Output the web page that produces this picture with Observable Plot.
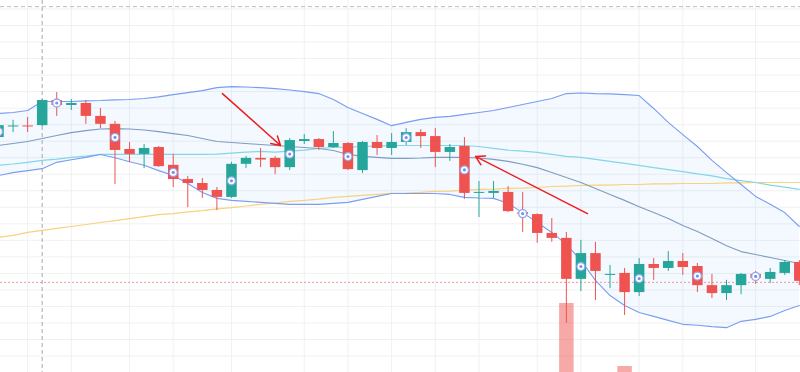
<!DOCTYPE html>
<html><head><meta charset="utf-8">
<script src="https://cdn.jsdelivr.net/npm/d3@7"></script>
<script src="https://cdn.jsdelivr.net/npm/@observablehq/plot@0.6"></script>
<style>
html,body{margin:0;padding:0;background:#fff;}
#chart{position:relative;width:800px;height:372px;overflow:hidden;background:#fff;}
#chart svg{position:absolute;left:0;top:0;}
</style></head><body><div id="chart"></div>
<script>
// OHLC per session (index 0..55)
const open  = [26.61,26.93,26.96,26.97,27.73,27.58,27.64,27.25,27.01,26.25,26.10,26.31,25.77,25.34,25.22,25.01,24.80,25.80,25.98,25.98,25.70,26.49,26.55,26.31,26.43,25.61,26.46,26.28,26.46,26.76,26.64,26.16,26.34,24.92,24.92,24.95,24.34,24.28,23.71,23.56,22.32,23.10,22.44,22.50,21.92,22.77,22.65,22.86,22.71,22.13,21.89,22.13,22.47,22.32,22.50,22.83];
const high  = [27.01,27.13,27.22,27.76,27.97,27.76,27.73,27.49,27.10,26.46,26.40,26.34,26.10,25.43,25.37,25.10,25.86,26.04,26.28,26.04,26.58,26.70,26.58,26.79,26.46,26.49,26.67,26.73,26.88,26.85,26.88,26.40,26.61,25.28,25.28,25.13,24.95,24.30,24.16,23.74,23.50,23.44,22.74,22.65,22.95,22.95,23.16,23.10,22.80,22.47,22.29,22.50,22.56,22.65,22.89,22.89];
const low   = [26.58,26.76,26.76,26.94,27.25,27.43,27.01,26.88,25.19,25.86,25.67,25.71,25.10,24.49,24.77,24.40,24.77,25.67,25.70,25.49,25.61,26.40,26.22,26.28,25.61,25.52,26.07,26.07,26.37,26.28,25.70,25.89,24.74,24.19,24.77,24.34,23.74,23.41,23.44,20.99,21.95,21.68,22.04,21.23,21.80,22.29,22.56,22.44,21.92,21.74,21.68,21.86,22.17,22.20,22.44,22.13];
const close = [26.97,26.96,26.93,27.73,27.58,27.64,27.25,27.01,26.22,26.10,26.28,25.73,25.34,25.22,25.01,24.80,25.80,25.98,25.93,25.70,26.52,26.55,26.31,26.43,25.64,26.46,26.28,26.46,26.76,26.64,26.16,26.31,24.92,24.95,24.98,24.37,24.28,23.71,23.56,22.32,23.10,22.56,22.47,21.92,22.77,22.65,22.86,22.68,22.13,21.89,22.13,22.47,22.35,22.53,22.83,22.26];

// Bollinger bands
const bbUpper  = [27.34,27.37,27.43,27.70,27.70,27.70,27.72,27.73,27.75,27.76,27.79,27.84,27.91,27.97,28.03,28.12,28.15,28.14,28.12,28.09,28.05,28.00,27.94,27.76,27.52,27.34,27.16,26.97,27.07,27.16,27.22,27.25,27.31,27.37,27.43,27.52,27.61,27.70,27.79,27.94,27.96,27.94,27.93,27.91,27.88,27.49,27.07,26.70,26.34,25.92,25.55,25.19,24.83,24.59,24.34,23.92];
const bbMiddle = [26.37,26.43,26.49,26.58,26.67,26.76,26.82,26.87,26.88,26.87,26.84,26.79,26.73,26.67,26.58,26.49,26.46,26.43,26.40,26.37,26.34,26.31,26.28,26.22,26.10,26.04,26.01,25.98,25.98,25.99,26.01,26.01,26.01,25.99,25.95,25.89,25.80,25.70,25.55,25.40,25.25,25.07,24.89,24.71,24.52,24.34,24.16,23.95,23.77,23.56,23.34,23.16,23.07,22.98,22.89,22.80];
const bbLower  = [25.46,25.55,25.61,25.67,25.86,25.94,26.01,26.10,26.00,25.88,25.77,25.61,25.46,25.22,24.95,24.77,24.71,24.68,24.65,24.62,24.59,24.59,24.59,24.62,24.65,24.74,24.83,24.92,24.92,24.92,24.92,24.89,24.80,24.78,24.77,24.62,24.34,24.04,23.74,23.38,22.89,22.29,21.83,21.53,21.32,21.20,21.08,20.96,20.93,20.89,20.86,21.05,21.11,21.20,21.38,21.53];

// moving averages
const maFast = [25.77,25.81,25.86,25.92,25.96,26.01,26.05,26.10,26.10,26.10,26.10,26.10,26.10,26.10,26.10,26.11,26.14,26.17,26.19,26.17,26.20,26.23,26.28,26.31,26.32,26.34,26.35,26.37,26.37,26.37,26.37,26.37,26.37,26.34,26.28,26.23,26.20,26.16,26.10,26.04,26.01,25.95,25.89,25.83,25.77,25.70,25.64,25.58,25.51,25.45,25.37,25.31,25.25,25.17,25.11,25.04];
const maSlow = [23.59,23.65,23.74,23.80,23.86,23.92,23.98,24.04,24.10,24.16,24.22,24.28,24.31,24.36,24.40,24.45,24.49,24.54,24.59,24.63,24.68,24.71,24.75,24.80,24.83,24.86,24.89,24.92,24.93,24.95,24.98,24.99,25.02,25.04,25.05,25.07,25.08,25.10,25.13,25.14,25.16,25.17,25.17,25.19,25.19,25.21,25.21,25.22,25.22,25.22,25.24,25.24,25.25,25.25,25.25,25.25];

// signal markers
const markerIdx = [0,4,8,12,16,20,24,28,32,36,40,44,48,52];

// volume (millions) that reaches the visible pane
const volIdx = [39, 43];
const volume = [6.9, 0.6];

// annotations (arrows)
const arrowFromIdx = [15.38, 40.45];
const arrowFromPx  = [27.94, 24.31];
const arrowToIdx   = [19.37, 32.76];
const arrowToPx    = [26.37, 26.04];

// grid ticks
const priceTicks = d3.range(20, 30.51, 0.5);
const dateTicks = [2,5,9,12,16,21,24,27,30,33,37,40,44,47,52];
const crossIdx = 3, crossPrice = 30.57, lastPrice = 22.23;

const rows = open.map((o,i)=>({k:i, open:o, high:high[i], low:low[i], close:close[i],
  upper:bbUpper[i], middle:bbMiddle[i], lower:bbLower[i], ma1:maFast[i], ma2:maSlow[i]}));
const up = rows.filter(d=>d.close>=d.open);
const down = rows.filter(d=>d.close<d.open);
const markers = rows.filter(d=>markerIdx.includes(d.k));
const arrows = arrowFromIdx.map((x,i)=>({x1:x, y1:arrowFromPx[i], x2:arrowToIdx[i], y2:arrowToPx[i]}));
const vols = volIdx.map((k,i)=>({k, v:volume[i]}));

const xDomain = [0.137, 55.082];
const yDomain = [19.503, 30.756];
const UP = "#26a69a", DOWN = "#ef5350";

const main = Plot.plot({
  width:800, height:372, margin:0,
  style:{background:"transparent"},
  x:{domain:xDomain, axis:null},
  y:{domain:yDomain, axis:null},
  marks:[
    Plot.ruleY(priceTicks, {stroke:"#f0f1f3"}),
    Plot.ruleX(dateTicks, {stroke:"#f0f1f3"}),
    Plot.areaY(rows, {x:"k", y1:"lower", y2:"upper", fill:"rgb(33,150,243)", fillOpacity:0.055}),
    Plot.ruleY([lastPrice], {stroke:DOWN, strokeOpacity:0.6, strokeDasharray:"2,2"}),
    Plot.ruleX([crossIdx], {stroke:"#a8a8a8", strokeDasharray:"4,3"}),
    Plot.ruleY([crossPrice], {stroke:"#bdbdbd", strokeDasharray:"4,3"}),
    Plot.line(rows, {x:"k", y:"ma2", stroke:"#f8d27c", strokeWidth:1.2}),
    Plot.line(rows, {x:"k", y:"ma1", stroke:"#84d6e6", strokeWidth:1.2}),
    Plot.line(rows, {x:"k", y:"upper", stroke:"#7b9df3", strokeWidth:1.1}),
    Plot.line(rows, {x:"k", y:"lower", stroke:"#7b9df3", strokeWidth:1.1}),
    Plot.line(rows, {x:"k", y:"middle", stroke:"#7f9cc2", strokeWidth:1.1}),
    Plot.ruleX(up, {x:"k", y1:"low", y2:"high", stroke:UP}),
    Plot.ruleX(down, {x:"k", y1:"low", y2:"high", stroke:DOWN}),
    Plot.ruleX(up, {x:"k", y1:"open", y2:"close", stroke:UP, strokeWidth:10.5}),
    Plot.ruleX(down, {x:"k", y1:"open", y2:"close", stroke:DOWN, strokeWidth:10.5}),
    Plot.dot(markers, {x:"k", y:d=>(d.open+d.close)/2, r:4, fill:"white", stroke:"#8ea7ef", strokeWidth:1.3}),
    Plot.dot(markers, {x:"k", y:d=>(d.open+d.close)/2, r:1.6, fill:"#7b93e6"}),
    Plot.arrow(arrows, {x1:"x1", y1:"y1", x2:"x2", y2:"y2", stroke:"#f01b1b", strokeWidth:1.5, headLength:10})
  ]
});

const volPlot = Plot.plot({
  width:800, height:372, margin:0,
  style:{background:"transparent"},
  x:{domain:xDomain, axis:null},
  y:{domain:[0, 37.2], axis:null},
  marks:[
    Plot.ruleX(vols, {x:"k", y1:0, y2:"v", stroke:DOWN, strokeOpacity:0.5, strokeWidth:14.5})
  ]
});

const el = document.getElementById("chart");
el.appendChild(main);
el.appendChild(volPlot);
</script>
</body></html>
